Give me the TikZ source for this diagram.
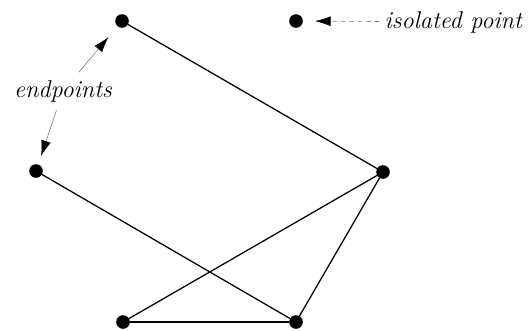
\documentclass[tikz,border=0pt]{standalone}
\usepackage{xcolor}
\usetikzlibrary{arrows.meta}

\begin{document}
\begin{tikzpicture}[
    x=0.025cm, y=-0.025cm,
    line cap=round,
    line join=round,
    every node/.style={font=\LARGE\itshape},
    vtx/.style={circle, fill=black, inner sep=0pt, minimum size=0.34cm},
    edge/.style={line width=0.9pt},
    ptr/.style={ptrgray, line width=0.4pt, -{Latex[black,length=11pt,width=7pt]}}
]

\definecolor{ptrgray}{RGB}{120,120,120}

\useasboundingbox (0,0) rectangle (531,330);

% -----------------------------
% Vertices
% -----------------------------
\node[vtx] (va) at (122,21) {};
\node[vtx] (vb) at (36,171) {};
\node[vtx] (vc) at (383,172) {};
\node[vtx] (vd) at (123,322) {};
\node[vtx] (ve) at (296,322) {};
\node[vtx] (vf) at (296,21) {};

% -----------------------------
% Edges
% -----------------------------
\draw[edge] (va) -- (vc);
\draw[edge] (vb) -- (ve);
\draw[edge] (vc) -- (vd);
\draw[edge] (vc) -- (ve);
\draw[edge, line width=1.4pt] (vd) -- (ve);

% -----------------------------
% Labels
% -----------------------------
\node (endlbl) at (63,91) {endpoints};
\draw[ptr, shorten <=0.1cm, shorten >=0.35cm] (endlbl) -- (va);
\draw[ptr, shorten <=0.1cm, shorten >=0.22cm] (endlbl) -- (vb);

\node[anchor=west, inner sep=1pt] (isolbl) at (383,22) {isolated point};
\draw[ptr, dashed, shorten <=0.1cm, shorten >=0.3cm] (isolbl) -- (vf);

\end{tikzpicture}
\end{document}
